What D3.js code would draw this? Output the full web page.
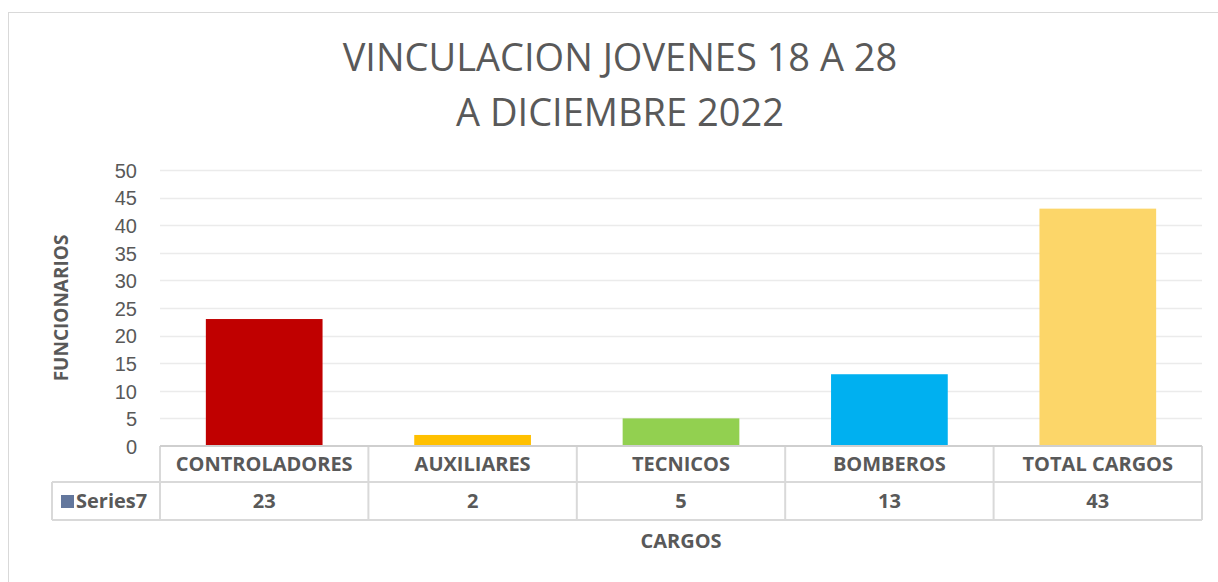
<!DOCTYPE html>
<html>
<head>
<meta charset="utf-8">
<script src="https://cdn.jsdelivr.net/npm/d3@7"></script>
<style>
  body { margin: 0; background: #fff; }
  svg { display: block; font-family: "Open Sans", "Liberation Sans", sans-serif; }
</style>
</head>
<body>
<svg id="chart" width="1218" height="582"></svg>
<script>
// Data
const categories = ["CONTROLADORES", "AUXILIARES", "TECNICOS", "BOMBEROS", "TOTAL CARGOS"];
const values = [23, 2, 5, 13, 43];
const barColors = ["#C00000", "#FFC000", "#92D050", "#00B0F0", "#FCD669"];
const yTicks = [0, 5, 10, 15, 20, 25, 30, 35, 40, 45, 50];
const seriesName = "Series7";
const titleLines = ["VINCULACION JOVENES 18 A 28", "A DICIEMBRE 2022"];

const svg = d3.select("#chart");
const textColor = "#595959";
const lineColor = "#d9d9d9";

// plot area
const plot = { left: 160, right: 1202, top: 170, bottom: 446 };
const rowH = [36, 38]; // header row, values row
const legendLeft = 52;

// outer chart frame (cut off at right and bottom)
svg.append("rect")
  .attr("x", 8.5).attr("y", 12.5)
  .attr("width", 1240).attr("height", 600)
  .attr("fill", "#fff")
  .attr("stroke", lineColor);

const x = d3.scaleBand().domain(categories).range([plot.left, plot.right]).padding(0);
const y = d3.scaleLinear().domain([0, 50]).range([plot.bottom, plot.top]);

// gridlines
svg.append("g")
  .selectAll("line")
  .data(yTicks.filter(d => d > 0))
  .join("line")
  .attr("x1", plot.left).attr("x2", plot.right)
  .attr("y1", d => Math.round(y(d)) + 0.5).attr("y2", d => Math.round(y(d)) + 0.5)
  .attr("stroke", "#ebebeb").attr("stroke-width", 1.3);

// y axis labels
const yAxis = d3.axisLeft(y).tickValues(yTicks).tickSize(0).tickPadding(0);
const yg = svg.append("g").attr("transform", `translate(${plot.left - 23},0)`).call(yAxis);
yg.select(".domain").remove();
yg.selectAll("text")
  .attr("fill", textColor)
  .style("font-size", "20px")
  .attr("dy", "0.36em");

// bars
const barW = x.bandwidth() * 0.56;
svg.append("g")
  .selectAll("rect")
  .data(categories)
  .join("rect")
  .attr("x", d => x(d) + (x.bandwidth() - barW) / 2)
  .attr("width", barW)
  .attr("y", (d, i) => y(values[i]))
  .attr("height", (d, i) => y(0) - y(values[i]))
  .attr("fill", (d, i) => barColors[i]);

// data table
const t = svg.append("g").attr("stroke", lineColor).attr("stroke-width", 2).attr("fill", "none");
const yRow1 = plot.bottom + rowH[0];
const yRow2 = yRow1 + rowH[1];
// vertical lines
const edges = categories.map(c => x(c)).concat([plot.right]);
t.selectAll("line.v")
  .data(edges)
  .join("line")
  .attr("class", "v")
  .attr("x1", d => d).attr("x2", d => d)
  .attr("y1", plot.bottom).attr("y2", yRow2);
t.append("line").attr("x1", legendLeft).attr("x2", legendLeft).attr("y1", yRow1).attr("y2", yRow2);
t.append("line").attr("x1", legendLeft).attr("x2", plot.right).attr("y1", yRow1).attr("y2", yRow1);
t.append("line").attr("x1", legendLeft).attr("x2", plot.right).attr("y1", yRow2).attr("y2", yRow2);
// axis line
svg.append("line")
  .attr("x1", plot.left).attr("x2", plot.right)
  .attr("y1", plot.bottom).attr("y2", plot.bottom)
  .attr("stroke", "#cfcfcf").attr("stroke-width", 2);

// category labels
svg.append("g")
  .selectAll("text")
  .data(categories)
  .join("text")
  .attr("x", d => x(d) + x.bandwidth() / 2)
  .attr("y", plot.bottom + rowH[0] / 2)
  .attr("dy", "0.36em")
  .attr("text-anchor", "middle")
  .attr("fill", textColor)
  .style("font-size", "20px")
  .style("font-weight", "bold")
  .text(d => d);

// value labels
svg.append("g")
  .selectAll("text")
  .data(values)
  .join("text")
  .attr("x", (d, i) => x(categories[i]) + x.bandwidth() / 2)
  .attr("y", yRow1 + rowH[1] / 2)
  .attr("dy", "0.36em")
  .attr("text-anchor", "middle")
  .attr("fill", textColor)
  .style("font-size", "20px")
  .style("font-weight", "bold")
  .text(d => d);

// legend key in table
svg.append("rect")
  .attr("x", 61).attr("y", yRow1 + rowH[1] / 2 - 6)
  .attr("width", 13).attr("height", 13)
  .attr("fill", "#63779d");
svg.append("text")
  .attr("x", 76).attr("y", yRow1 + rowH[1] / 2)
  .attr("dy", "0.36em")
  .attr("fill", textColor)
  .style("font-size", "20px")
  .style("font-weight", "bold")
  .text(seriesName);

// axis titles
svg.append("text")
  .attr("transform", `translate(68,308) rotate(-90)`)
  .attr("text-anchor", "middle")
  .attr("fill", textColor)
  .style("font-size", "19px")
  .style("font-weight", "bold")
  .text("FUNCIONARIOS");

svg.append("text")
  .attr("x", (plot.left + plot.right) / 2)
  .attr("y", 548)
  .attr("text-anchor", "middle")
  .attr("fill", textColor)
  .style("font-size", "20px")
  .style("font-weight", "bold")
  .text("CARGOS");

// title
svg.append("g")
  .selectAll("text")
  .data(titleLines)
  .join("text")
  .attr("x", 620)
  .attr("y", (d, i) => 71 + i * 55)
  .attr("text-anchor", "middle")
  .attr("fill", textColor)
  .style("font-size", "38px")
  .text(d => d);
</script>
</body>
</html>
